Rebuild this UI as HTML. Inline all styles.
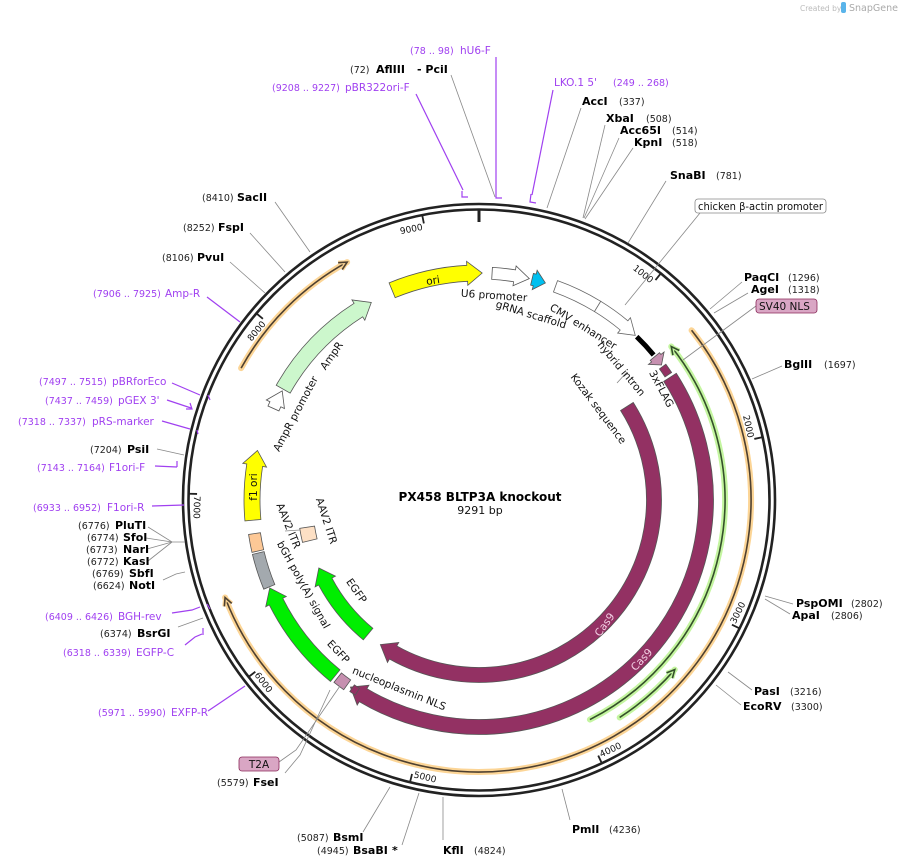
<!DOCTYPE html>
<html><head><meta charset="utf-8">
<style>
html,body{margin:0;padding:0;background:#fff;}
svg{display:block;font-family:"DejaVu Sans","Liberation Sans",sans-serif;}
.n{font-size:9.5px;fill:#222;}
.b{font-size:11px;font-weight:bold;fill:#000;}
.p{font-size:10.5px;fill:#a040f0;}
.pn{font-size:9.5px;fill:#a040f0;}
.f{font-size:10.5px;fill:#111;}
.tk{font-size:9px;fill:#111;}
.ln{stroke:#888;stroke-width:0.8;fill:none;}
.pl{stroke:#a040f0;stroke-width:1.2;fill:none;}
</style></head>
<body>
<svg id="s" width="898" height="866" viewBox="0 0 898 866" xmlns="http://www.w3.org/2000/svg">
<rect width="898" height="866" fill="#fff"/>
<text x="800" y="11" font-size="7.5" fill="#bbb">Created by</text>
<rect x="841" y="2" width="5" height="11" rx="2" fill="#5ab4ea"/>
<text x="849" y="11" font-size="9.5" fill="#aaa">SnapGene</text>

<g id="shapes"></g>

<g class="ln">
<polyline points="451,75 495,197"/>
<polyline points="581,108 547,208"/>
<polyline points="605,125 583,218"/>
<polyline points="619,138 584,218"/>
<polyline points="633,148 585,219"/>
<polyline points="666,181 628,243"/>
<polyline points="700,213 625,305"/>
<polyline points="742,282 710,309"/>
<polyline points="748,293 714,313"/>
<polyline points="756,306 683,360"/>
<polyline points="782,366 752,379"/>
<polyline points="793,604 765,596"/>
<polyline points="790,614 765,599"/>
<polyline points="752,690 728,672"/>
<polyline points="741,705 716,685"/>
<polyline points="570,820 562,789"/>
<polyline points="443,840 443,797"/>
<polyline points="402,845 419,793"/>
<polyline points="363,832 390,787"/>
<polyline points="285,773 300,755 330,690"/>
<polyline points="279,762 296,750 340,686"/>
<polyline points="230,262 265,293"/>
<polyline points="250,233 285,272"/>
<polyline points="275,202 310,252"/>
<polyline points="157,449 184,455"/>
<polyline points="148,527 172,542 185,542"/>
<polyline points="146,538 172,542"/>
<polyline points="147,549 172,542"/>
<polyline points="148,561 172,542"/>
<polyline points="163,580 176,574 185,572"/>
<polyline points="178,627 203,618"/>
<polyline points="285,531 300,530"/>
<polyline points="617,383 627,372"/>
</g>
<g class="pl">
<polyline points="416,94 463,190"/><polyline points="462,191 462,197 468,197"/>
<polyline points="496,57 496,198 502,198"/>
<polyline points="553,90 532,195"/><polyline points="531,194 530,202 536,203"/>
<polyline points="172,383 200,395"/><polyline points="208,395 210,400"/>
<polyline points="167,400 191,408"/><polyline points="190,403 192,409 186,409"/>
<polyline points="162,421 190,429"/><polyline points="197,430 198,434"/>
<polyline points="155,466 177,467"/><polyline points="177,461 177,467"/>
<polyline points="152,506 184,505"/>
<polyline points="172,613 192,610 200,607"/><polyline points="207,604 210,609"/>
<polyline points="185,645 195,637 202,634"/><polyline points="203,628 203,635"/>
<polyline points="207,297 240,322"/>
<polyline points="208,711 245,686"/>
</g>

<text x="410" y="54" class="pn">(78 .. 98)</text><text x="460" y="54" class="p">hU6-F</text>
<text x="350" y="73" class="n">(72)</text><text x="376" y="73" class="b">AflIII</text><text x="417" y="73" class="b">- PciI</text>
<text x="272" y="91" class="pn">(9208 .. 9227)</text><text x="345" y="91" class="p">pBR322ori-F</text>
<text x="554" y="86" class="p">LKO.1 5'</text><text x="613" y="86" class="pn">(249 .. 268)</text>
<text x="582" y="105" class="b">AccI</text><text x="619" y="105" class="n">(337)</text>
<text x="606" y="122" class="b">XbaI</text><text x="646" y="122" class="n">(508)</text>
<text x="620" y="134" class="b">Acc65I</text><text x="672" y="134" class="n">(514)</text>
<text x="634" y="146" class="b">KpnI</text><text x="672" y="146" class="n">(518)</text>
<text x="670" y="179" class="b">SnaBI</text><text x="716" y="179" class="n">(781)</text>
<rect x="695" y="199" width="131" height="14" rx="3" fill="#fff" stroke="#888" stroke-width="0.8"/>
<text x="698" y="210" class="f" textLength="125" lengthAdjust="spacingAndGlyphs">chicken β-actin promoter</text>
<text x="744" y="281" class="b">PaqCI</text><text x="788" y="281" class="n">(1296)</text>
<text x="751" y="293" class="b">AgeI</text><text x="788" y="293" class="n">(1318)</text>
<rect x="756" y="299" width="61" height="14" rx="3" fill="#d9a6c4" stroke="#8a2a5a" stroke-width="0.8"/>
<text x="759" y="310" class="f">SV40 NLS</text>
<text x="784" y="368" class="b">BglII</text><text x="824" y="368" class="n">(1697)</text>
<text x="796" y="607" class="b">PspOMI</text><text x="851" y="607" class="n">(2802)</text>
<text x="792" y="619" class="b">ApaI</text><text x="831" y="619" class="n">(2806)</text>
<text x="754" y="695" class="b">PasI</text><text x="790" y="695" class="n">(3216)</text>
<text x="743" y="710" class="b">EcoRV</text><text x="791" y="710" class="n">(3300)</text>
<text x="572" y="833" class="b">PmlI</text><text x="609" y="833" class="n">(4236)</text>
<text x="443" y="854" class="b">KflI</text><text x="474" y="854" class="n">(4824)</text>
<text x="317" y="854" class="n">(4945)</text><text x="353" y="854" class="b">BsaBI</text><text x="392" y="854" class="b">*</text>
<text x="297" y="841" class="n">(5087)</text><text x="333" y="841" class="b">BsmI</text>
<text x="217" y="786" class="n">(5579)</text><text x="253" y="786" class="b">FseI</text>
<rect x="239" y="757" width="40" height="14" rx="3" fill="#d9a6c4" stroke="#8a2a5a" stroke-width="0.8"/>
<text x="259" y="768" class="f" text-anchor="middle">T2A</text>
<text x="98" y="716" class="pn">(5971 .. 5990)</text><text x="171" y="716" class="p">EXFP-R</text>
<text x="63" y="656" class="pn">(6318 .. 6339)</text><text x="136" y="656" class="p">EGFP-C</text>
<text x="100" y="637" class="n">(6374)</text><text x="137" y="637" class="b">BsrGI</text>
<text x="45" y="620" class="pn">(6409 .. 6426)</text><text x="118" y="620" class="p">BGH-rev</text>
<text x="93" y="589" class="n">(6624)</text><text x="129" y="589" class="b">NotI</text>
<text x="92" y="577" class="n">(6769)</text><text x="129" y="577" class="b">SbfI</text>
<text x="87" y="565" class="n">(6772)</text><text x="123" y="565" class="b">KasI</text>
<text x="86" y="553" class="n">(6773)</text><text x="123" y="553" class="b">NarI</text>
<text x="87" y="541" class="n">(6774)</text><text x="123" y="541" class="b">SfoI</text>
<text x="78" y="529" class="n">(6776)</text><text x="115" y="529" class="b">PluTI</text>
<text x="33" y="511" class="pn">(6933 .. 6952)</text><text x="107" y="511" class="p">F1ori-R</text>
<text x="37" y="471" class="pn">(7143 .. 7164)</text><text x="109" y="471" class="p">F1ori-F</text>
<text x="90" y="453" class="n">(7204)</text><text x="127" y="453" class="b">PsiI</text>
<text x="18" y="425" class="pn">(7318 .. 7337)</text><text x="92" y="425" class="p">pRS-marker</text>
<text x="45" y="404" class="pn">(7437 .. 7459)</text><text x="118" y="404" class="p">pGEX 3'</text>
<text x="39" y="385" class="pn">(7497 .. 7515)</text><text x="112" y="385" class="p">pBRforEco</text>
<text x="93" y="297" class="pn">(7906 .. 7925)</text><text x="165" y="297" class="p">Amp-R</text>
<text x="162" y="261" class="n">(8106)</text><text x="197" y="261" class="b">PvuI</text>
<text x="183" y="231" class="n">(8252)</text><text x="218" y="231" class="b">FspI</text>
<text x="202" y="201" class="n">(8410)</text><text x="237" y="201" class="b">SacII</text>

<text x="480" y="501" text-anchor="middle" font-size="12" font-weight="bold" fill="#000">PX458 BLTP3A knockout</text>
<text x="480" y="514" text-anchor="middle" font-size="11" fill="#111">9291 bp</text>

<g class="f" text-anchor="middle" dominant-baseline="central">
<text transform="translate(433,281) rotate(-9)">ori</text>
<text transform="translate(494,296) rotate(4)">U6 promoter</text>
<text transform="translate(531,315) rotate(17)">gRNA scaffold</text>
<text transform="translate(583,327) rotate(32)">CMV enhancer</text>
<text transform="translate(621,369) rotate(50)">hybrid intron</text>
<text transform="translate(661,389) rotate(62)">3xFLAG</text>
<text transform="translate(598,409) rotate(53)">Kozak sequence</text>
<text transform="translate(332,356) rotate(-55)">AmpR</text>
<text transform="translate(296,414) rotate(-62)">AmpR promoter</text>
<text transform="translate(254,487) rotate(-90)">f1 ori</text>
<text transform="translate(326,521) rotate(72)">AAV2 ITR</text>
<text transform="translate(288,526) rotate(68)">AAV2 ITR</text>
<text transform="translate(303,585) rotate(61)">bGH poly(A) signal</text>
<text transform="translate(356,591) rotate(55)">EGFP</text>
<text transform="translate(338,652) rotate(47)">EGFP</text>
<text transform="translate(399,689) rotate(22)">nucleoplasmin NLS</text>
<text transform="translate(605,625) rotate(-54)" style="fill:#f3d0e4">Cas9</text>
<text transform="translate(642,660) rotate(-47)" style="fill:#f3d0e4">Cas9</text>
</g>

<g class="tk">
<text id="tk1">1000</text><text id="tk2">2000</text><text id="tk3">3000</text><text id="tk4">4000</text>
<text id="tk5">5000</text><text id="tk6">6000</text><text id="tk7">7000</text><text id="tk8">8000</text><text id="tk9">9000</text>
</g>
</svg>
<script>
const cx=479, cy=500, NS='http://www.w3.org/2000/svg';
const g=document.getElementById('shapes');
function add(tag,a,parent){const e=document.createElementNS(NS,tag);for(const k in a)e.setAttribute(k,a[k]);(parent||g).appendChild(e);return e;}
function P(r,a){const t=a*Math.PI/180;return (cx+r*Math.sin(t)).toFixed(2)+','+(cy-r*Math.cos(t)).toFixed(2);}
function arc(r,a1,a2,sw){const large=Math.abs(a2-a1)>180?1:0;return 'A'+r+' '+r+' 0 '+large+' '+sw+' '+P(r,a2).replace(',',' ');}
function feat(r,w,a1,a2,head,fill,stroke){
  const ro=r+w/2, ri=r-w/2, hw=w/2+4; const hl=Math.min(15/r*180/Math.PI,(a2-a1)*0.8); let d;
  if(head==='end'){const b=a2-hl;d='M'+P(ro,a1)+' '+arc(ro,a1,b,1)+' L'+P(r+hw,b)+' L'+P(r,a2)+' L'+P(r-hw,b)+' L'+P(ri,b)+' '+arc(ri,b,a1,0)+' Z';}
  else if(head==='start'){const b=a1+hl;d='M'+P(r,a1)+' L'+P(r+hw,b)+' L'+P(ro,b)+' '+arc(ro,b,a2,1)+' L'+P(ri,a2)+' '+arc(ri,a2,b,0)+' L'+P(r-hw,b)+' Z';}
  else d='M'+P(ro,a1)+' '+arc(ro,a1,a2,1)+' L'+P(ri,a2)+' '+arc(ri,a2,a1,0)+' Z';
  add('path',{d:d,fill:fill,stroke:stroke||'#555','stroke-width':0.8});
}
function larrow(r,a1,a2,head,glow,line){
  const d='M'+P(r,a1)+' '+arc(r,a1,a2,1);
  add('path',{d:d,fill:'none',stroke:glow,'stroke-width':6,'stroke-linecap':'round'});
  add('path',{d:d,fill:'none',stroke:line,'stroke-width':1.6});
  const hl=8/r*180/Math.PI; let tip,b;
  if(head==='end'){tip=a2;b=a2-hl;}else{tip=a1;b=a1+hl;}
  add('path',{d:'M'+P(r+4,b)+' L'+P(r,tip)+' L'+P(r-4,b),fill:'none',stroke:glow,'stroke-width':4,'stroke-linejoin':'round'});
  add('path',{d:'M'+P(r+4,b)+' L'+P(r,tip)+' L'+P(r-4,b),fill:'none',stroke:line,'stroke-width':1.6});
}
add('circle',{cx:cx,cy:cy,r:296,fill:'none',stroke:'#222','stroke-width':2.6});
add('circle',{cx:cx,cy:cy,r:290.5,fill:'none',stroke:'#222','stroke-width':2.6});
for(let k=0;k<10;k++){const a=k*1000*360/9291;
  if(k===0) add('path',{d:'M'+P(290,a)+' L'+P(278,a),stroke:'#222','stroke-width':3});
  else add('path',{d:'M'+P(290,a)+' L'+P(282,a),stroke:'#222','stroke-width':1.8});
  if(k>0){const t=document.getElementById('tk'+k);
    if(a>90&&a<280){t.setAttribute('transform','rotate('+(a-180)+' '+cx+' '+cy+')');t.setAttribute('x',cx+2);t.setAttribute('y',cy+285);t.setAttribute('text-anchor','start');}
    else{t.setAttribute('transform','rotate('+a+' '+cx+' '+cy+')');t.setAttribute('x',cx-2);t.setAttribute('y',cy-276);t.setAttribute('text-anchor','end');}
  }
}
larrow(272,51.4,249,'end','#fcd596','#4e4030');
larrow(272,299,331,'end','#fcd596','#4e4030');
larrow(246,51.4,153.2,'start','#c4f5a0','#34502a');
larrow(259,130.9,147.1,'start','#c4f5a0','#34502a');
feat(227,16,337.5,360.8,'end','#ffff00');
feat(227,12,3.3,12.8,'end','#fff');
feat(227,12,13.5,17,'end','#00c0f0');
feat(227,12,19.7,31.5,'none','#fff','#666');
feat(227,12,31.5,43.5,'end','#fff','#666');
add('path',{d:'M'+P(227,44)+' '+arc(227,44,50.3,1),fill:'none',stroke:'#000','stroke-width':5});
feat(227,12,50.8,53.5,'end','#c690b0');
feat(227,8,54,56.5,'none','#933163');
feat(227,15,57.3,214.5,'end','#933163','#555');
feat(227,8,212.4,214,'none','#933163');
feat(227,12,215.5,218.5,'none','#c690b0');
feat(227,15,219.3,247.2,'end','#00ee00');
feat(227,12,247.5,256.5,'none','#a3a9ae');
feat(227,12,257,261.5,'none','#fdc896');
feat(227,16,264.9,282.6,'end','#ffff00');
feat(225,12,294,299,'end','#fff');
feat(225,16,299.5,331.4,'end','#ccf7cc');
feat(175,15,57.7,214.3,'end','#933163','#555');
feat(174,15,219.6,247,'end','#00ee00');
feat(174,15,256.5,261,'none','#fde0c5');
</script>
</body></html>
